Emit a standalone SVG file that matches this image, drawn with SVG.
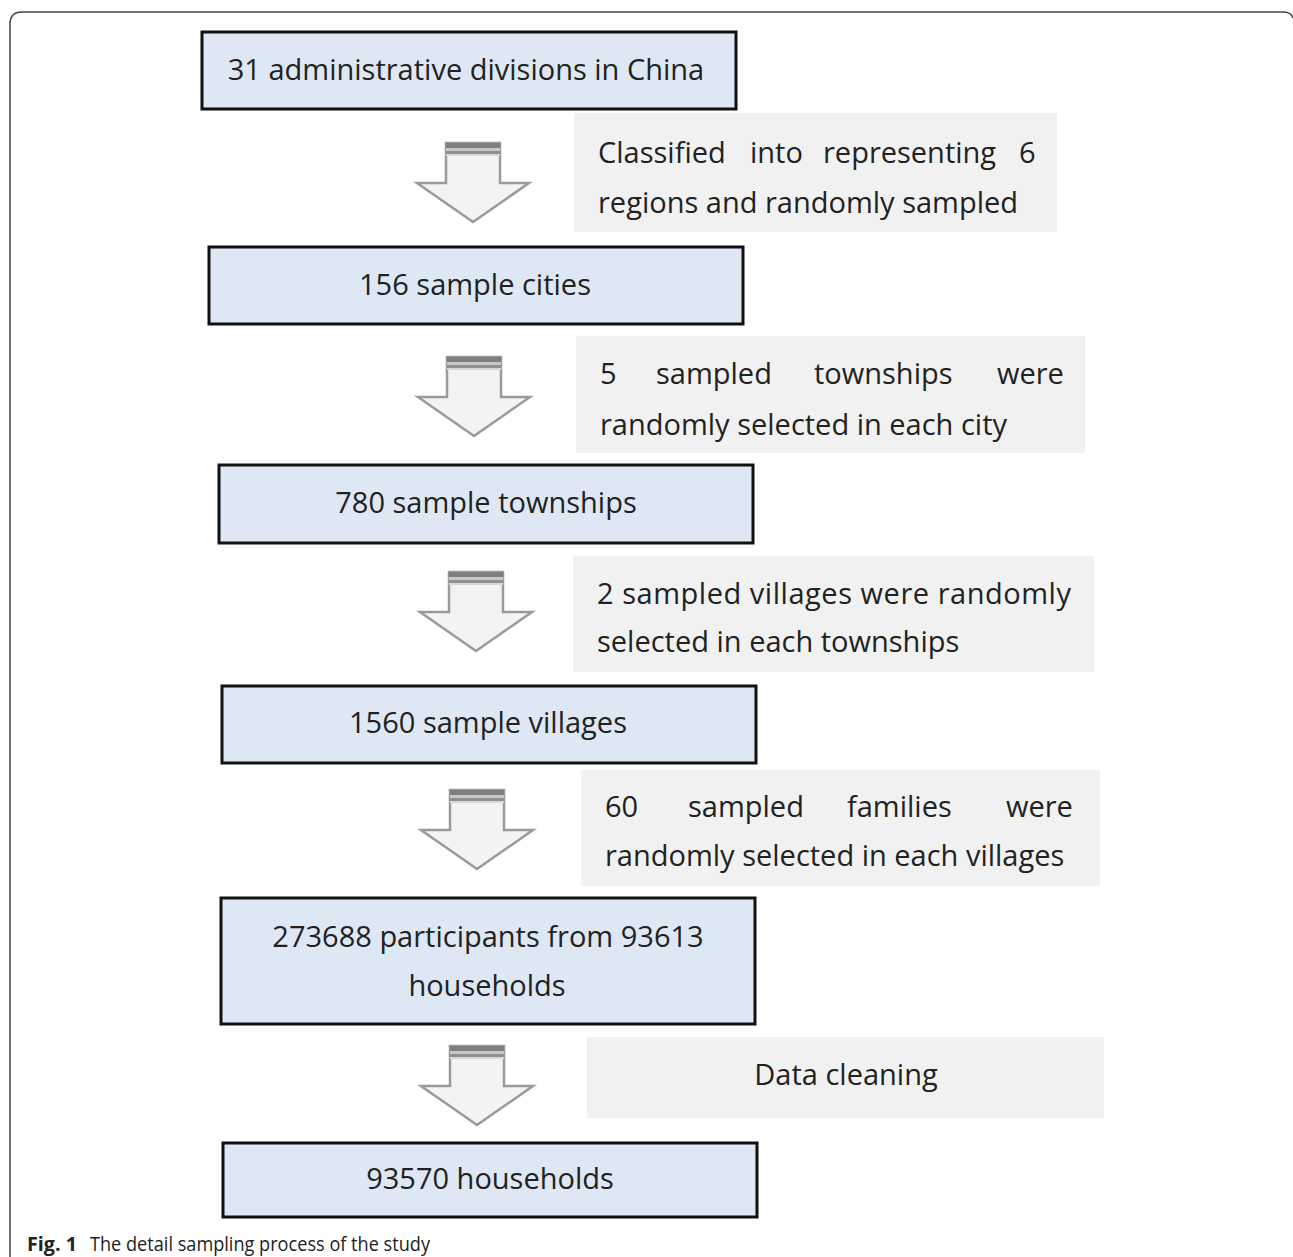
<svg xmlns="http://www.w3.org/2000/svg" width="1293" height="1257" viewBox="0 0 1293 1257">
<style>
.node{fill:#dde8f4;stroke:#111;stroke-width:3}
.lab{fill:#f1f1f1}
.t{font-family:"Open Sans","Liberation Sans",sans-serif;font-size:29px;fill:#222}
.c{text-anchor:middle}
.cap{font-family:"Open Sans","Liberation Sans",sans-serif;font-size:20px;fill:#222}
</style>
<defs>
<g id="arrow">
<polygon points="-27,0 27,0 27,40 56,40 0,79 -56,40 -27,40" fill="#f3f3f3" stroke="#9a9a9a" stroke-width="2.5" stroke-linejoin="miter"/>
<rect x="-27" y="0" width="54" height="5" fill="#7f7f7f"/>
<rect x="-27" y="5" width="54" height="3" fill="#c8c8c8"/>
<rect x="-27" y="8" width="54" height="3" fill="#8f8f8f"/>
<rect x="-27" y="11" width="54" height="2" fill="#d8d8d8"/>
</g>
</defs>
<path d="M10,1257 V24 Q10,12 22,12 H1283 Q1291,12 1293,18" fill="none" stroke="#444" stroke-width="1.5"/>
<g id="labels">
<g id="label1"><rect class="lab" x="574" y="113" width="483" height="119"/>
<text class="t" y="163"><tspan x="598">Classified</tspan><tspan x="750">into</tspan><tspan x="823">representing</tspan><tspan x="1019">6</tspan></text>
<text class="t" x="598" y="213">regions and randomly sampled</text></g>
<g id="label2"><rect class="lab" x="576" y="336" width="509" height="117"/>
<text class="t" y="384"><tspan x="600">5</tspan><tspan x="656">sampled</tspan><tspan x="814">townships</tspan><tspan x="997">were</tspan></text>
<text class="t" x="600" y="435">randomly selected in each city</text></g>
<g id="label3"><rect class="lab" x="573" y="556" width="521" height="116"/>
<text class="t" x="597" y="604" textLength="474" lengthAdjust="spacing">2 sampled villages were randomly</text>
<text class="t" x="597" y="652">selected in each townships</text></g>
<g id="label4"><rect class="lab" x="581" y="770" width="519" height="116"/>
<text class="t" y="817"><tspan x="605">60</tspan><tspan x="688">sampled</tspan><tspan x="847">families</tspan><tspan x="1006">were</tspan></text>
<text class="t" x="605" y="866">randomly selected in each villages</text></g>
<g id="label5"><rect class="lab" x="587" y="1037" width="517" height="81"/>
<text class="t c" x="846" y="1085">Data cleaning</text></g>
</g>
<g id="connectors">
<use href="#arrow" transform="translate(473,143)"/>
<use href="#arrow" transform="translate(474,357)"/>
<use href="#arrow" transform="translate(476,572)"/>
<use href="#arrow" transform="translate(477,790)"/>
<use href="#arrow" transform="translate(477,1046)"/>
</g>
<g id="n1"><rect class="node" x="202" y="32" width="534" height="77"/><text class="t c" x="466" y="80">31 administrative divisions in China</text></g>
<g id="n2"><rect class="node" x="209" y="247" width="534" height="77"/><text class="t c" x="475" y="295">156 sample cities</text></g>
<g id="n3"><rect class="node" x="219" y="465" width="534" height="78"/><text class="t c" x="486" y="513">780 sample townships</text></g>
<g id="n4"><rect class="node" x="222" y="686" width="534" height="77"/><text class="t c" x="488" y="733">1560 sample villages</text></g>
<g id="n5"><rect class="node" x="221" y="898" width="534" height="126"/><text class="t c" x="488" y="947">273688 participants from 93613</text><text class="t c" x="487" y="996">households</text></g>
<g id="n6"><rect class="node" x="223" y="1143" width="534" height="74"/><text class="t c" x="490" y="1189">93570 households</text></g>
<text class="cap" x="27" y="1251" font-weight="bold" textLength="50" lengthAdjust="spacingAndGlyphs">Fig. 1</text>
<text class="cap" x="90" y="1251" textLength="340" lengthAdjust="spacingAndGlyphs">The detail sampling process of the study</text>
</svg>
